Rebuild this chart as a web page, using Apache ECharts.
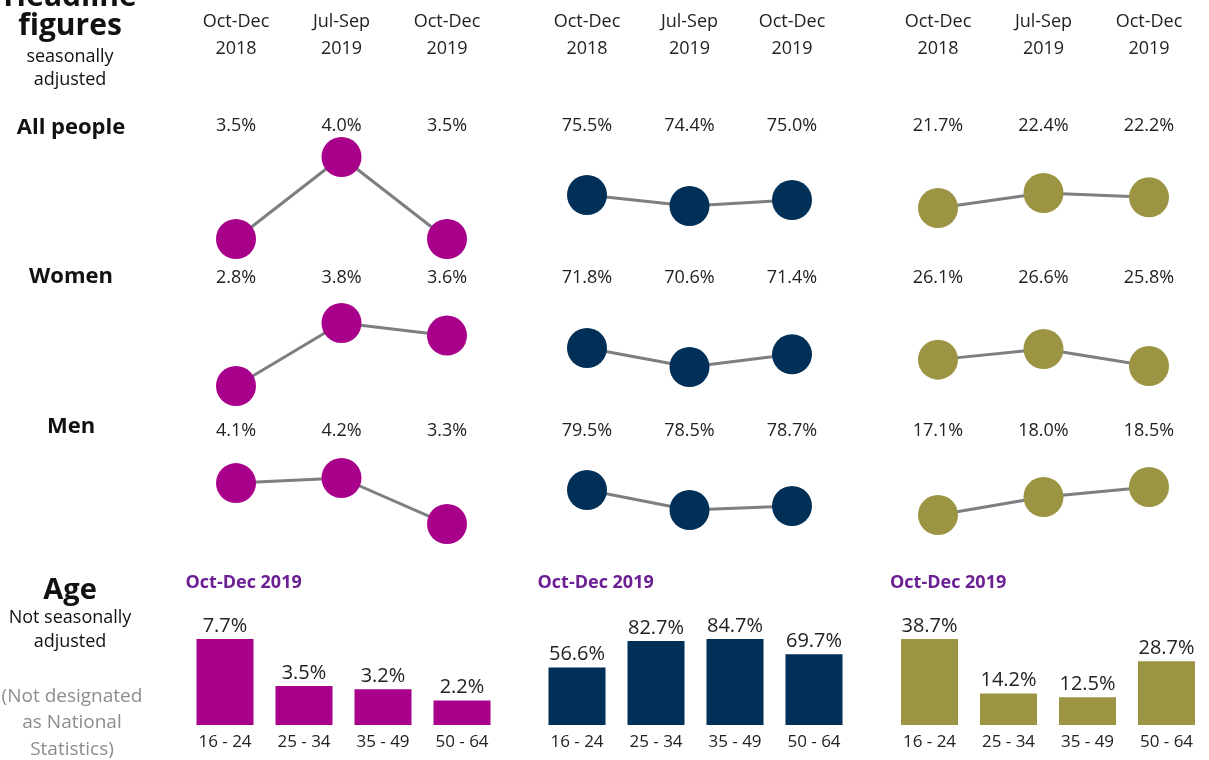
<!DOCTYPE html>
<html><head><meta charset="utf-8">
<script src="https://cdn.jsdelivr.net/npm/echarts@6/dist/echarts.min.js"></script>
<style>html,body{margin:0;padding:0;background:#fff}#c{width:1209px;height:760px}</style>
</head><body><div id="c"></div>
<script>
// ---- data ----
const periods = ['Oct-Dec\n2018', 'Jul-Sep\n2019', 'Oct-Dec\n2019'];
const groups = ['All people', 'Women', 'Men'];
const unempAll = [3.5, 4.0, 3.5];
const unempWomen = [2.8, 3.8, 3.6];
const unempMen = [4.1, 4.2, 3.3];
const empAll = [75.5, 74.4, 75.0];
const empWomen = [71.8, 70.6, 71.4];
const empMen = [79.5, 78.5, 78.7];
const inactAll = [21.7, 22.4, 22.2];
const inactWomen = [26.1, 26.6, 25.8];
const inactMen = [17.1, 18.0, 18.5];
const ageBands = ['16 - 24', '25 - 34', '35 - 49', '50 - 64'];
const ageUnemp = [7.7, 3.5, 3.2, 2.2];
const ageEmp = [56.6, 82.7, 84.7, 69.7];
const ageInact = [38.7, 14.2, 12.5, 28.7];
const agePeriod = 'Oct-Dec 2019';

// ---- layout / styles ----
const FONT = '"Open Sans"';
const colors = ['#A8008A', '#002F57', '#9B9442'];
const lineData = [
  [unempAll, unempWomen, unempMen],
  [empAll, empWomen, empMen],
  [inactAll, inactWomen, inactMen]
];
const ageData = [ageUnemp, ageEmp, ageInact];
const colLayout = [{left: 236, width: 211}, {left: 587, width: 205}, {left: 938, width: 211}];
// [top, height] for each column/row mini-chart
const boxes = [
  [[157, 82], [323, 63], [478, 46]],
  [[195, 11], [348, 19], [490, 20]],
  [[193, 15], [349, 17], [487, 28]]
];
const valueLabelY = [126, 278, 431];
const headerY = 35;
const rowLabelY = [128, 277, 427];
const barLayout = [185.5, 537.5, 890];

const grid = [], xAxis = [], yAxis = [], series = [];
for (let c = 0; c < 3; c++) {
  for (let r = 0; r < 3; r++) {
    const d = lineData[c][r];
    const [top, h] = boxes[c][r];
    const gi = grid.length;
    grid.push({left: colLayout[c].left, width: colLayout[c].width, top: top, height: h});
    const xi = xAxis.length;
    xAxis.push({
      type: 'category', gridIndex: gi, data: periods, boundaryGap: false, position: 'top',
      offset: top - valueLabelY[r],
      axisLine: {show: false}, axisTick: {show: false},
      axisLabel: {interval: 0, margin: 0, verticalAlign: 'middle', fontFamily: FONT, fontSize: 18, color: '#222',
        formatter: (v, idx) => d[idx].toFixed(1) + '%'}
    });
    if (r === 0) {
      xAxis.push({
        type: 'category', gridIndex: gi, data: periods, boundaryGap: false, position: 'top',
        offset: top - headerY,
        axisLine: {show: false}, axisTick: {show: false},
        axisLabel: {interval: 0, margin: 0, verticalAlign: 'middle', fontFamily: FONT, fontSize: 18, lineHeight: 27, color: '#222', align: 'center'}
      });
    }
    yAxis.push({type: 'value', gridIndex: gi, min: 'dataMin', max: 'dataMax', show: false, scale: true});
    series.push({
      type: 'line', xAxisIndex: xi, yAxisIndex: gi, data: d, clip: false,
      symbol: 'circle', symbolSize: 40, itemStyle: {color: colors[c]},
      lineStyle: {color: '#7B7F81', width: 3}, silent: true
    });
  }
}
for (let c = 0; c < 3; c++) {
  const gi = grid.length;
  grid.push({left: barLayout[c], width: 316, top: 639, height: 86});
  xAxis.push({type: 'category', gridIndex: gi, data: ageBands, axisLine: {show: false}, axisTick: {show: false},
    axisLabel: {interval: 0, margin: 9, fontFamily: FONT, fontSize: 17, color: '#222'}});
  yAxis.push({type: 'value', gridIndex: gi, min: 0, max: 'dataMax', show: false});
  series.push({type: 'bar', xAxisIndex: xAxis.length - 1, yAxisIndex: yAxis.length - 1, data: ageData[c],
    barWidth: 57, itemStyle: {color: colors[c]}, silent: true,
    label: {show: true, position: 'top', distance: 3, fontFamily: FONT, fontSize: 20, color: '#222',
      formatter: p => p.value.toFixed(1) + '%'}});
}

const txt = (x, y, t, size, weight, color) => ({type: 'text', x: x, y: y,
  style: {text: t, fontFamily: FONT, fontSize: size, fontWeight: weight, fill: color || '#111', align: 'center', verticalAlign: 'middle'}});
const graphic = [
  txt(70, -3, 'Headline', 30, 'bold'),
  txt(70, 26, 'figures', 30, 'bold'),
  txt(70, 57, 'seasonally', 18, 'normal'),
  txt(70, 80, 'adjusted', 18, 'normal'),
  txt(70, 591, 'Age', 29, 'bold'),
  txt(70, 618, 'Not seasonally', 18, 'normal'),
  txt(70, 642, 'adjusted', 18, 'normal'),
  txt(72, 697, '(Not designated', 19, 'normal', '#8A8D90'),
  txt(72, 723, 'as National', 19, 'normal', '#8A8D90'),
  txt(72, 750, 'Statistics)', 19, 'normal', '#8A8D90')
];
groups.forEach((g, i) => graphic.push(txt(71, rowLabelY[i], g, 22, 'bold')));
barLayout.forEach(l => graphic.push({type: 'text', x: l, y: 583,
  style: {text: agePeriod, fontFamily: FONT, fontSize: 18, fontWeight: 'bold', fill: '#6B1F93', align: 'left', verticalAlign: 'middle'}}));

const chart = echarts.init(document.getElementById('c'));
chart.setOption({animation: false, grid, xAxis, yAxis, series, graphic});
</script>
</body></html>
